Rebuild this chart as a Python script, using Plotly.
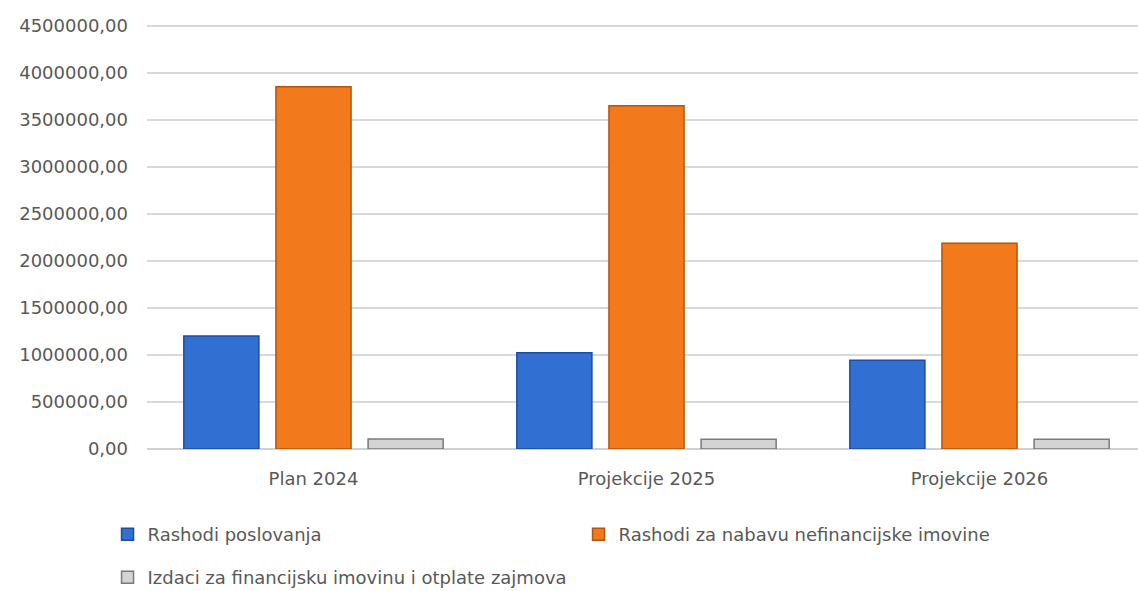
import plotly.graph_objects as go

categories = ["Plan 2024", "Projekcije 2025", "Projekcije 2026"]
series_names = [
    "Rashodi poslovanja",
    "Rashodi za nabavu nefinancijske imovine",
    "Izdaci za financijsku imovinu i otplate zajmova",
]
rashodi_poslovanja = [1202000, 1024000, 944000]
rashodi_nabava = [3851000, 3649000, 2188000]
izdaci_financijska = [106000, 103000, 103000]

fill_colors = ["#3170D2", "#F27A1C", "#D4D4D4"]
line_colors = ["#1E4C9C", "#B4540F", "#7A7A7A"]
legends = ["legend", "legend", "legend2"]

FONT = "DejaVu Sans"
FS = 18
TXT = "#595959"

fig = go.Figure()
for name, vals, fc, lc, lg in zip(series_names,
                                  [rashodi_poslovanja, rashodi_nabava, izdaci_financijska],
                                  fill_colors, line_colors, legends):
    fig.add_trace(go.Bar(
        x=categories, y=vals, name=name,
        marker=dict(color=fc, line=dict(color=lc, width=1.5)),
        legend=lg,
    ))

fig.update_layout(
    width=1138, height=591,
    margin=dict(l=147, r=0, t=23, b=142),
    paper_bgcolor="white", plot_bgcolor="white",
    barmode="group", bargap=0.17, bargroupgap=0.185,
    separators=",.",
    font=dict(family=FONT, size=FS, color=TXT),
    showlegend=True,
    legend=dict(
        orientation="h", xref="container", yref="container",
        x=0.0945, y=0.1269, xanchor="left", yanchor="top",
        entrywidth=426, entrywidthmode="pixels",
        font=dict(family=FONT, size=FS, color=TXT),
        bgcolor="rgba(0,0,0,0)",
    ),
    legend2=dict(
        orientation="h", xref="container", yref="container",
        x=0.0945, y=0.0541, xanchor="left", yanchor="top",
        font=dict(family=FONT, size=FS, color=TXT),
        bgcolor="rgba(0,0,0,0)",
    ),
)
fig.update_xaxes(
    type="category", range=[-0.5, 2.476],
    showgrid=False, showline=False, zeroline=False,
    ticks="", ticklabelstandoff=17,
    tickfont=dict(family=FONT, size=FS, color=TXT),
)
fig.update_yaxes(
    range=[0, 4530000], dtick=500000, tick0=0,
    tickformat=".2f",
    showgrid=True, gridcolor="#D9D9D9", gridwidth=1.5,
    zeroline=True, zerolinecolor="#D0D0D0", zerolinewidth=1.5,
    showline=False, ticks="", ticklabelstandoff=18,
    tickfont=dict(family=FONT, size=FS, color=TXT),
)

fig.write_html("out.html", config={"displayModeBar": False},
               post_script="document.body.style.margin='0';")
